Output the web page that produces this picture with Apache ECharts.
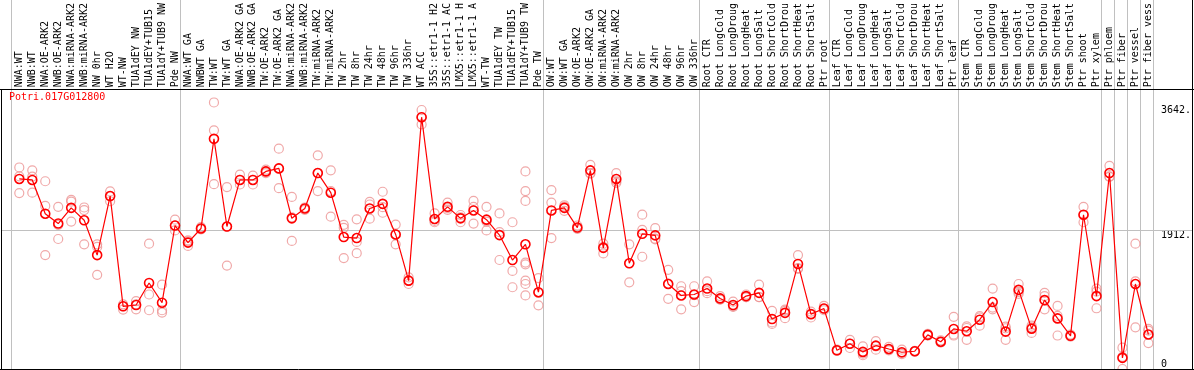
<!DOCTYPE html>
<html><head><meta charset="utf-8">
<script src="https://cdn.jsdelivr.net/npm/echarts@6/dist/echarts.min.js"></script>
<style>html,body{margin:0;padding:0;background:#fff}#c{width:1194px;height:370px}</style>
</head><body><div id="c"></div>
<script>
const chartTitle = 'Potri.017G012800';
const categories = [
'NWA:WT','NWB:WT','NWA:OE-ARK2','NWB:OE-ARK2','NWA:miRNA-ARK2','NWB:miRNA-ARK2','NW 0hr','WT H2O','WT-NW','TUA1dEY NW','TUA1dEY+TUB15','TUA1dY+TUB9 NW','Pde NW',
'NWA:WT GA','NWBWT GA','TW:WT','TW:WT GA','NWA:OE-ARK2 GA','NWB:OE-ARK2 GA','TW:OE-ARK2','TW:OE-ARK2 GA','NWA:miRNA-ARK2','NWB:miRNA-ARK2','TW:miRNA-ARK2','TW:miRNA-ARK2','TW 2hr','TW 8hr','TW 24hr','TW 48hr','TW 96hr','TW 336hr','WT ACC','35S::etr1-1 H2','35S::etr1-1 AC','LMX5::etr1-1 H','LMX5::etr1-1 A','WT-TW','TUA1dEY TW','TUA1dEY+TUB15','TUA1dY+TUB9 TW','Pde TW',
'OW:WT','OW:WT GA','OW:OE-ARK2','OW:OE-ARK2 GA','OW:miRNA-ARK2','OW:miRNA-ARK2','OW 2hr','OW 8hr','OW 24hr','OW 48hr','OW 96hr','OW 336hr',
'Root CTR','Root LongCold','Root LongDroug','Root LongHeat','Root LongSalt','Root ShortCold','Root ShortDrou','Root ShortHeat','Root ShortSalt','Ptr root',
'Leaf CTR','Leaf LongCold','Leaf LongDroug','Leaf LongHeat','Leaf LongSalt','Leaf ShortCold','Leaf ShortDrou','Leaf ShortHeat','Leaf ShortSalt','Ptr leaf',
'Stem CTR','Stem LongCold','Stem LongDroug','Stem LongHeat','Stem LongSalt','Stem ShortCold','Stem ShortDrou','Stem ShortHeat','Stem ShortSalt','Ptr shoot','Ptr xylem',
'Ptr phloem','Ptr fiber','Ptr vessel','Ptr fiber vess'
];
const means = [
2623,2609,2143,2007,2224,2052,1572,2387,865,883,1187,915,1980,
1744,1939,3176,1966,2609,2609,2727,2768,2079,2215,2704,2433,1821,1807,2215,2279,1857,1219,3475,2070,2238,2079,2188,2061,1848,1504,1721,1060,
2188,2224,1952,2741,1672,2623,1459,1866,1844,1173,1015,1028,
1110,974,883,1006,1051,689,775,1450,757,834,
258,349,236,322,276,231,245,471,376,553,
521,680,924,516,1092,557,951,698,458,2129,1006,
2704,154,1173,476
];
const replicates = [
[2781,2428,2659],[2741,2433,2655],[2591,2251,1572],[2238,1794,1989],[2333,2310,2034],[2229,2193,1721],[1721,1685,1300],[2451,2387,2315],[865,820,892],[938,824,892],[1730,1028,811],[1164,811,779],[2061,1980,1912],
[1762,1699,1776],[1957,1934,1925],[3678,3293,2550],[2510,1966,1427],[2682,2546,2609],[2668,2546,2609],[2727,2704,2750],[3040,2496,2768],[2374,1767,2093],[2229,2197,2215],[2949,2455,2704],[2741,2102,2455],[1989,1948,1531],[2066,1753,1599],[2306,2075,2270],[2446,2156,2233],[1993,1721,1857],[1264,1173,1219],[3574,3375,3475],[2147,2043,2025],[2297,2197,2220],[2125,2025,2093],[2319,2007,2238],[2238,1912,2034],[2147,1504,1889],[2025,1354,1128],[2727,2455,2319,1468,1445,1219,1173,1015],[1255,1051,879],
[2469,2297,1807],[2260,2242,2183],[1980,1934,1943],[2818,2704,2695],[1730,1685,1595],[2704,2569,2591],[1721,1196,1459],[2129,1921,1549],[1943,1798,1789],[1368,969,1178],[1142,824,1074],[1142,924,1019],
[1210,1074,1046],[1006,960,956],[929,865,856],[1028,992,992],[1164,992,992],[802,643,621],[820,802,702],[1572,1391,1382],[793,711,757],[870,811,834],
[258,249,267],[403,290,349],[313,190,213],[385,267,313],[304,267,258],[267,204,222],[245,249,240],[485,462,467],[394,367,367],[720,462,476],
[589,403,566],[729,598,711],[1110,824,847],[584,403,562],[1173,1065,1037],[575,498,598],[1051,1006,824],[870,734,462],[476,448,458],[2238,2025,2125],[1110,838,1069],
[2804,2659,2650],[294,168,0],[1730,575,1210],[553,530,358]
];
const yTickValues = [1912, 3642];
const yZeroTick = [0];
const gridLineValue = 1912;
const groupStarts = [0, 13, 41, 53, 63, 73, 84, 85, 86, 87, 88];
const yMax = 3860;

const FONT = '"DejaVu Sans Mono", monospace';
const chart = echarts.init(document.getElementById('c'), null, {renderer: 'canvas'});
const repPoints = [];
replicates.forEach((arr, i) => arr.forEach(v => repPoints.push([i, v])));

const yLabelBase = {fontFamily: FONT, fontSize: 10, color: '#000', margin: 6,
  formatter: v => (v === 0 ? '0' : v + '.')};

chart.setOption({
  animation: false,
  backgroundColor: '#fff',
  grid: {left: 12.8, right: 37.2, top: 85, bottom: 1, containLabel: false},
  title: {text: chartTitle, left: 9, top: 92, padding: 0,
    textStyle: {color: '#ff0000', fontFamily: FONT, fontSize: 10, fontWeight: 'normal'}},
  xAxis: {type: 'category', data: categories, position: 'top', boundaryGap: true,
    axisLine: {show: false}, axisTick: {show: false}, splitLine: {show: false},
    axisLabel: {interval: 0, rotate: 90, margin: 2, fontFamily: FONT, fontSize: 10, color: '#000'}},
  yAxis: [
    {type: 'value', min: 0, max: yMax, position: 'right', axisLine: {show: false}, axisTick: {show: false}, splitLine: {show: false},
      axisLabel: Object.assign({}, yLabelBase, {customValues: yTickValues, verticalAlign: 'top'})},
    {type: 'value', min: 0, max: yMax, position: 'right', axisLine: {show: false}, axisTick: {show: false}, splitLine: {show: false},
      axisLabel: Object.assign({}, yLabelBase, {customValues: yZeroTick, verticalAlign: 'bottom'})}
  ],
  series: [
    {type: 'scatter', data: repPoints, symbol: 'circle', symbolSize: 9, z: 2,
      itemStyle: {color: 'rgba(0,0,0,0)', borderColor: '#ec9494', borderWidth: 1.2}},
    {type: 'line', data: means, symbol: 'circle', symbolSize: 9, showAllSymbol: true, z: 3,
      lineStyle: {color: '#ff0000', width: 1.2},
      itemStyle: {color: 'rgba(0,0,0,0)', borderColor: '#ff0000', borderWidth: 1.6}}
  ]
});

function cx(i) {
  if (i < categories.length) return chart.convertToPixel({xAxisIndex: 0}, i);
  const a = chart.convertToPixel({xAxisIndex: 0}, categories.length - 1);
  const b = chart.convertToPixel({xAxisIndex: 0}, categories.length - 2);
  return a + (a - b) * (i - categories.length + 1);
}
const step = cx(1) - cx(0);
const yTop = Math.round(chart.convertToPixel({yAxisIndex: 0}, yMax));
const yBot = Math.round(chart.convertToPixel({yAxisIndex: 0}, 0));
const yGrid = Math.round(chart.convertToPixel({yAxisIndex: 0}, gridLineValue));
const W = 1194;
const gray = '#c0c0c0';
const graphics = [];
groupStarts.forEach(i => {
  const x = Math.round(cx(i) - step * 0.64) + 0.5;
  graphics.push({type: 'line', z: 1, silent: true, shape: {x1: x, y1: 0, x2: x, y2: yBot}, style: {stroke: gray, lineWidth: 1}});
});
graphics.push({type: 'line', z: 1, silent: true, shape: {x1: 1, y1: yGrid + 0.5, x2: W - 1, y2: yGrid + 0.5}, style: {stroke: gray, lineWidth: 1}});
graphics.push({type: 'line', z: 5, silent: true, shape: {x1: 0, y1: yTop + 0.5, x2: W, y2: yTop + 0.5}, style: {stroke: '#000', lineWidth: 1}});
graphics.push({type: 'line', z: 5, silent: true, shape: {x1: 0, y1: yBot + 0.5, x2: W, y2: yBot + 0.5}, style: {stroke: '#000', lineWidth: 1}});
graphics.push({type: 'line', z: 5, silent: true, shape: {x1: 1.5, y1: yTop, x2: 1.5, y2: yBot + 1}, style: {stroke: '#000', lineWidth: 1}});
graphics.push({type: 'line', z: 5, silent: true, shape: {x1: W - 1.5, y1: 0, x2: W - 1.5, y2: yBot + 1}, style: {stroke: '#000', lineWidth: 1}});
chart.setOption({graphic: graphics});
</script>
</body></html>
